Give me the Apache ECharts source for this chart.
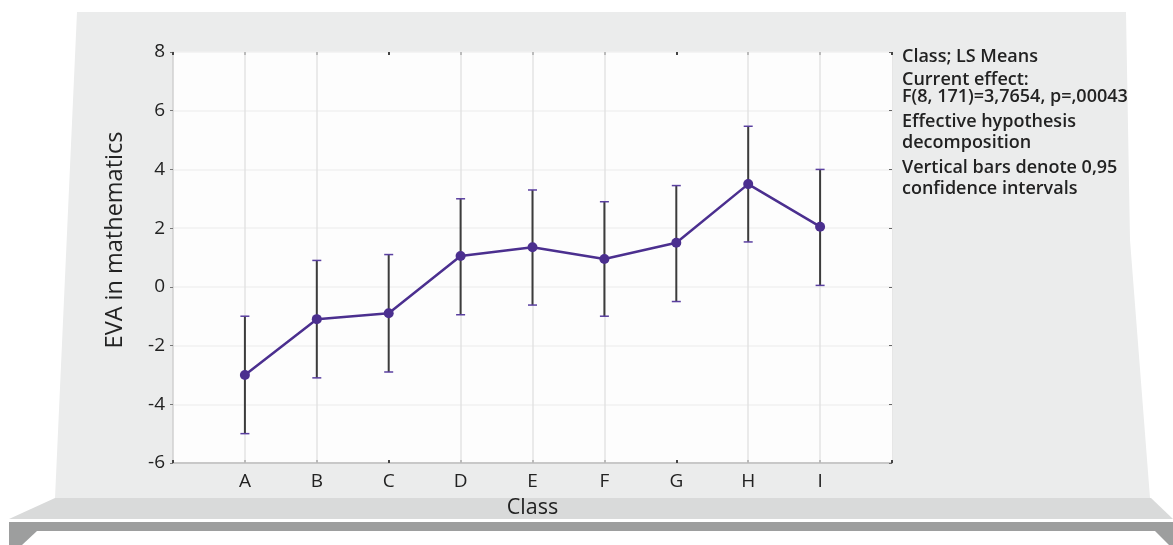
<!DOCTYPE html>
<html>
<head>
<meta charset="utf-8">
<script src="https://cdn.jsdelivr.net/npm/echarts@6/dist/echarts.min.js"></script>
<style>
html,body{margin:0;padding:0;background:#fff;}
#c{width:1173px;height:545px;}
</style>
</head>
<body>
<div id="c"></div>
<script>
// ---- data ----
const categories = ['A','B','C','D','E','F','G','H','I'];
const means = [-3.0, -1.1, -0.9, 1.05, 1.35, 0.95, 1.5, 3.5, 2.05];
const lower = [-5.0, -3.1, -2.9, -0.95, -0.62, -1.0, -0.5, 1.53, 0.05];
const upper = [-1.0, 0.9, 1.1, 3.0, 3.3, 2.9, 3.45, 5.47, 4.0];
const yMin = -6, yMax = 8, yStep = 2;
const yAxisTitle = 'EVA in mathematics';
const xAxisTitle = 'Class';
const noteLines = [
  'Class; LS Means',
  'Current effect:',
  'F(8, 171)=3,7654, p=,00043',
  'Effective hypothesis',
  'decomposition',
  'Vertical bars denote 0,95',
  'confidence intervals'
];

// ---- build ----
const axisCats = [''].concat(categories, ['']);
const lineData = ['-'].concat(means, ['-']);
const errData = categories.map((c, i) => [i + 1, lower[i], upper[i]]);
const skipCats = ['C', 'G'];
const gridCats = categories.filter(c => skipCats.indexOf(c) < 0);

const FONT = '"Open Sans", "DejaVu Sans", sans-serif';
const noteY = [57, 80, 97, 122, 143, 168, 189];

const graphics = [
  { type: 'polygon', z: -10, shape: { points: [[77,12],[1126,12],[1130,240],[1150,498],[55,498]] }, style: { fill: '#ebecec' } },
  { type: 'polygon', z: -10, shape: { points: [[55,498],[1151,498],[1173,519],[9,519]] }, style: { fill: '#d9dada' } },
  { type: 'rect', z: -10, shape: { x: 9, y: 522, width: 1164, height: 9 }, style: { fill: '#9d9e9e' } },
  { type: 'polygon', z: -10, shape: { points: [[9,531],[37,531],[22,545],[9,545]] }, style: { fill: '#9d9e9e' } },
  { type: 'polygon', z: -10, shape: { points: [[1155,531],[1173,531],[1173,545],[1169,545]] }, style: { fill: '#9d9e9e' } },
  { type: 'text', x: 115, y: 240, rotation: Math.PI / 2,
    style: { text: yAxisTitle, font: '23.5px ' + FONT, fill: '#222', textAlign: 'center', textVerticalAlign: 'middle' } }
];
noteLines.forEach((t, i) => {
  graphics.push({ type: 'text', x: 902, y: noteY[i],
    style: { text: t, font: '600 18px ' + FONT, fill: '#222', textAlign: 'left', textVerticalAlign: 'middle' } });
});

const chart = echarts.init(document.getElementById('c'));
chart.setOption({
  animation: false,
  backgroundColor: '#fff',
  grid: { left: 173, top: 52, right: 281, bottom: 82, show: true, backgroundColor: '#fdfdfd', borderWidth: 0 },
  graphic: graphics,
  xAxis: [
    {
      type: 'category', data: axisCats, boundaryGap: false,
      name: xAxisTitle, nameLocation: 'middle', nameGap: 34,
      nameTextStyle: { fontFamily: FONT, fontSize: 21.5, color: '#222' },
      axisLine: { show: true, onZero: false, lineStyle: { color: '#c8c8c8', width: 2 } },
      axisTick: { show: true, interval: 0, length: 3, inside: true, lineStyle: { color: '#444', width: 2 } },
      axisLabel: { interval: 0, margin: 9, fontFamily: FONT, fontSize: 19, color: '#222' },
      splitLine: { show: false }
    },
    {
      type: 'category', data: axisCats, boundaryGap: false, position: 'top',
      axisLine: { show: false, onZero: false },
      axisTick: { show: true, interval: 0, length: 3, inside: true, lineStyle: { color: '#444', width: 2 } },
      axisLabel: { show: false }, splitLine: { show: false }
    }
  ],
  yAxis: [
    {
      type: 'value', min: yMin, max: yMax, interval: yStep,
      axisLine: { show: true, onZero: false, lineStyle: { color: '#d0d0d0', width: 1.5 } },
      axisTick: { show: true, length: 3, lineStyle: { color: '#777' } },
      axisLabel: { margin: 8, fontFamily: FONT, fontSize: 19, color: '#222' },
      splitLine: { show: true, lineStyle: { color: '#f0f0f0', width: 1.5 } }
    },
    {
      type: 'value', min: yMin, max: yMax, interval: yStep, position: 'right',
      axisLine: { show: true, onZero: false, lineStyle: { color: '#e6e6e6', width: 1 } },
      axisTick: { show: true, length: 3, inside: true, lineStyle: { color: '#666' } },
      axisLabel: { show: false }, splitLine: { show: false }
    }
  ],
  series: [
    {
      type: 'line',
      data: [],
      z: 1,
      silent: true,
      markLine: {
        silent: true, symbol: 'none', z: 1,
        label: { show: false },
        lineStyle: { type: 'solid', color: '#e3e3e3', width: 1.5 },
        data: gridCats.map(c => ({ xAxis: c }))
      }
    },
    {
      type: 'custom',
      data: errData,
      z: 2,
      renderItem: function (params, api) {
        const x = api.value(0);
        const lo = api.coord([x, api.value(1)]);
        const hi = api.coord([x, api.value(2)]);
        const w = 4.5;
        return {
          type: 'group',
          children: [
            { type: 'line', shape: { x1: lo[0], y1: lo[1], x2: hi[0], y2: hi[1] }, style: { stroke: '#3c3c3c', lineWidth: 2 } },
            { type: 'line', shape: { x1: hi[0] - w, y1: hi[1], x2: hi[0] + w, y2: hi[1] }, style: { stroke: '#5a3fa0', lineWidth: 1.5 } },
            { type: 'line', shape: { x1: lo[0] - w, y1: lo[1], x2: lo[0] + w, y2: lo[1] }, style: { stroke: '#5a3fa0', lineWidth: 1.5 } }
          ]
        };
      }
    },
    {
      type: 'line',
      data: lineData,
      z: 3,
      symbol: 'circle', symbolSize: 10,
      lineStyle: { color: '#4b2f8f', width: 2.5 },
      itemStyle: { color: '#4b2f8f' }
    }
  ]
});
</script>
</body>
</html>
